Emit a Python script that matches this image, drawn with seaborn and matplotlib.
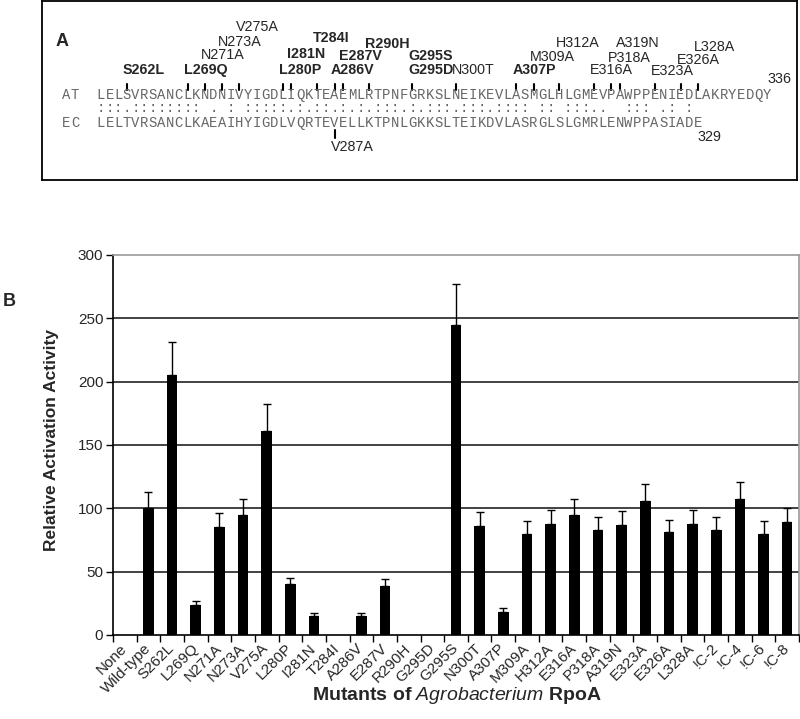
import numpy as np
import seaborn as sns
import matplotlib.pyplot as plt

# panel B data
mutants = ['None', 'Wild-type', 'S262L', 'L269Q', 'N271A', 'N273A', 'V275A',
           'L280P', 'I281N', 'T284I', 'A286V', 'E287V', 'R290H', 'G295D',
           'G295S', 'N300T', 'A307P', 'M309A', 'H312A', 'E316A', 'P318A',
           'A319N', 'E323A', 'E326A', 'L328A', '!C-2', '!C-4', '!C-6', '!C-8']
activity = [0, 100, 205, 24, 85, 95, 161, 40, 15, 0, 15, 39, 0, 0, 245, 86, 18,
            80, 88, 95, 83, 87, 106, 81, 88, 83, 107, 80, 89]
error = [0, 13, 26, 3, 11, 12, 21, 5, 2, 0, 2, 5, 0, 0, 32, 11, 3, 10, 11, 12,
         10, 11, 13, 10, 11, 10, 14, 10, 11]

# panel A data
at_seq = "LELSVRSANCLKNDNIVYIGDLIQKTEAEMLRTPNFGRKSLNEIKEVLASMGLHLGMEVPAWPPENIEDLAKRYEDQY"
ec_seq = "LELTVRSANCLKAEAIHYIGDLVQRTEVELLKTPNLGKKSLTEIKDVLASRGLSLGMRLENWPPASIADE"
match_line = (":::." + "::::::::" + " . : " + ":::::" + ".:." + "::" + ".:.:." +
              ":::" + ".:." + ":::" + "." + ":::" + "." + "::::" + " :: " +
              ":::" + ".." + "  " + ":::" + " .: :")
at_first = 259
ec_first = 260
at_muts = ['S262L', 'L269Q', 'N271A', 'N273A', 'V275A', 'L280P', 'I281N',
           'T284I', 'A286V', 'E287V', 'R290H', 'G295S', 'G295D', 'N300T',
           'A307P', 'M309A', 'H312A', 'E316A', 'P318A', 'A319N', 'E323A',
           'E326A', 'L328A']
at_bold = [1, 1, 0, 0, 0, 1, 1, 1, 1, 1, 1, 1, 1, 0, 1, 0, 0, 0, 0, 0, 0, 0, 0]
ec_muts = ['V287A']

# stacking rows of the labels (pixel rows of panel A)
label_y = [70, 70, 55, 42, 27, 70, 54, 38, 70, 56, 44, 56, 70, 70, 70, 57, 43,
           70, 58, 43, 71, 60, 47]

sns.set_style('ticks')
plt.rcParams['font.family'] = ['Liberation Sans', 'DejaVu Sans']
plt.rcParams['mathtext.fontset'] = 'custom'
plt.rcParams['mathtext.rm'] = 'Liberation Sans'
plt.rcParams['mathtext.it'] = 'Liberation Sans:italic'
plt.rcParams['mathtext.bf'] = 'Liberation Sans:bold'

W, H = 800, 719
fig = plt.figure(figsize=(W / 100, H / 100), dpi=100)

# ---------------- panel A ----------------
axa = fig.add_axes([42 / W, 1 - 180 / H, 755 / W, 179 / H])
pitch = 8.65
x0 = -(101 - 42) / pitch
axa.set_xlim(x0, x0 + 755 / pitch)
axa.set_ylim(180, 1)
axa.set_xticks([])
axa.set_yticks([])
for s in axa.spines.values():
    s.set_linewidth(1.3)
    s.set_color('black')

mono = dict(family='Liberation Mono', fontsize=10, color='#666666',
            ha='center', va='baseline')
for i, ch in enumerate('AT'):
    axa.text(i - 4, 99, ch, **mono)
for i, ch in enumerate('EC'):
    axa.text(i - 4, 127, ch, **mono)
for i, ch in enumerate(at_seq):
    axa.text(i, 99, ch, **mono)
for i, ch in enumerate(match_line):
    if ch != ' ':
        axa.text(i, 112, ch, **mono)
for i, ch in enumerate(ec_seq):
    axa.text(i, 127, ch, **mono)

cols = sorted(set(int(m[1:-1]) - at_first for m in at_muts))
for c in cols:
    axa.plot([c, c], [84, 90], color='black', lw=1.5)
for m, b, y in zip(at_muts, at_bold, label_y):
    c = int(m[1:-1]) - at_first
    axa.text(c - 0.45, y, m, fontsize=10.3, ha='left', va='center',
             fontweight='bold' if b else 'normal')
for m in ec_muts:
    c = int(m[1:-1]) - ec_first
    axa.plot([c, c], [130, 138], color='black', lw=1.5)
    axa.text(c - 0.45, 147, m, fontsize=10.3, ha='left', va='center')

axa.text(len(at_seq) - 1.0, 79, str(at_first + len(at_seq) - 1), fontsize=10.3,
         ha='left', va='center')
axa.text(len(ec_seq) - 1.1, 137, str(ec_first + len(ec_seq) - 1), fontsize=10.3,
         ha='left', va='center')
fig.text(62 / W, 1 - 42 / H, 'A', fontsize=13, fontweight='bold',
         ha='center', va='center')

# ---------------- panel B ----------------
ax = fig.add_axes([113 / W, (H - 635) / H, 686 / W, 380 / H])
sns.barplot(x=mutants, y=activity, color='black', saturation=1, width=0.45,
            errorbar=None, edgecolor='black', linewidth=0, ax=ax, zorder=3)
pos = np.arange(len(mutants))
act = np.array(activity)
err = np.array(error)
keep = act > 0
ax.errorbar(pos[keep], act[keep], yerr=[np.zeros(keep.sum()), err[keep]],
            fmt='none', ecolor='black', elinewidth=1, capsize=3, capthick=1,
            zorder=4)

ax.set_xlim(-0.5, len(mutants) - 0.5)
ax.set_ylim(0, 300)
ax.set_yticks(np.arange(0, 301, 50))
ax.tick_params(axis='y', labelsize=11, length=5, width=1, pad=2, color='black')
ax.set_xticks(pos)
ax.set_xticklabels(mutants, rotation=45, ha='right', va='center',
                   rotation_mode='anchor', fontsize=11)
ax.tick_params(axis='x', which='major', length=0, pad=8)
ax.set_xticks(np.arange(-0.5, len(mutants), 1), minor=True)
ax.tick_params(axis='x', which='minor', length=5, width=1, color='black')
ax.set_xlabel('')
ax.set_ylabel('')

for y in range(50, 300, 50):
    ax.axhline(y, color='#222222', lw=1.2, zorder=1)
for side in ['left', 'bottom']:
    ax.spines[side].set_color('black')
    ax.spines[side].set_linewidth(1.2)
for side in ['top', 'right']:
    ax.spines[side].set_visible(True)
    ax.spines[side].set_color('#9a9a9a')
    ax.spines[side].set_linewidth(1.2)

fig.text(52 / W, 1 - 440 / H, 'Relative Activation Activity', rotation=90,
         fontsize=12.5, fontweight='bold', ha='center', va='center')
fig.text(457 / W, 1 - 695 / H,
         r'$\mathbf{Mutants\ of\ }\mathit{Agrobacterium}\mathbf{\ RpoA}$',
         fontsize=14, ha='center', va='center')
fig.text(9 / W, 1 - 302 / H, 'B', fontsize=13, fontweight='bold',
         ha='center', va='center')

fig.savefig('out.png', dpi=100)
